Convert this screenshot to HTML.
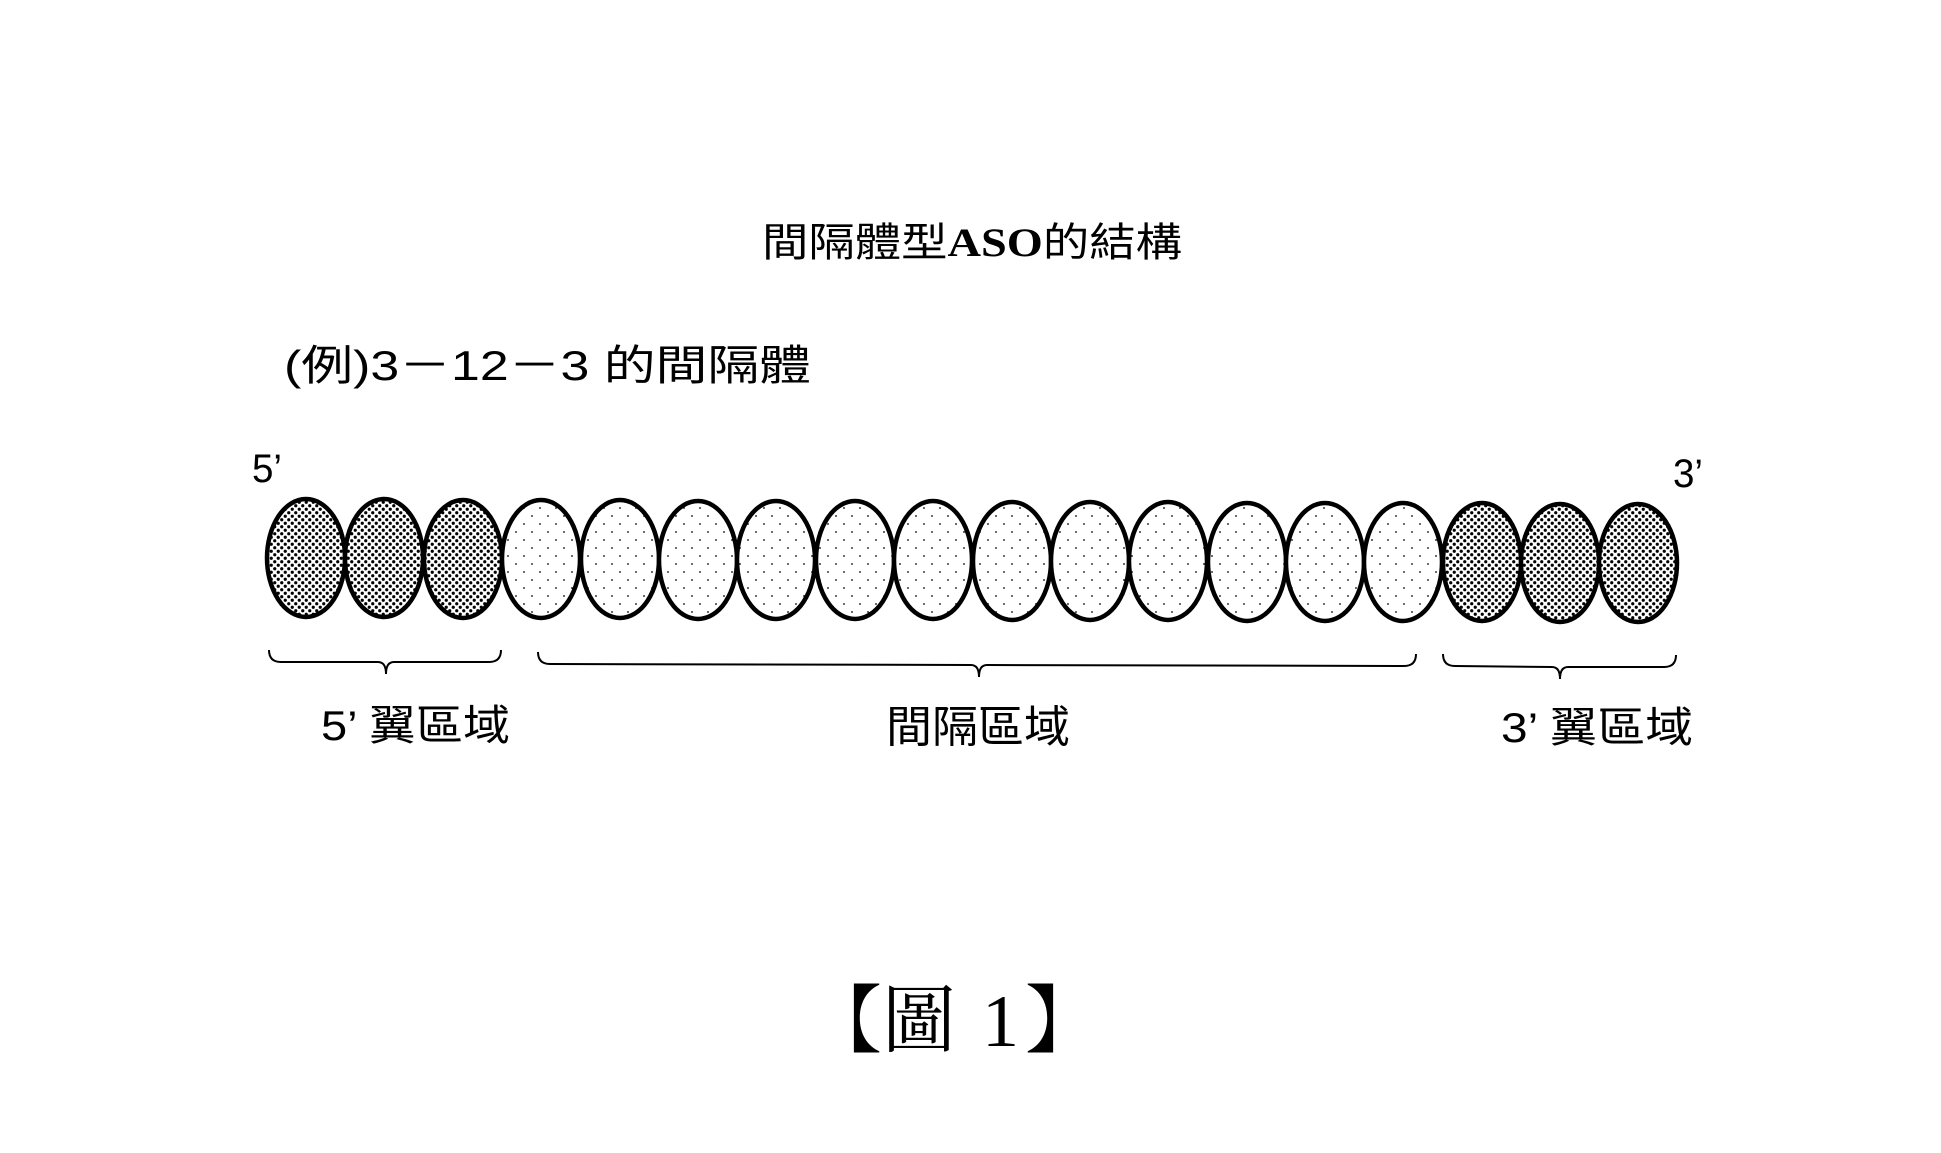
<!DOCTYPE html>
<html><head><meta charset="utf-8"><style>
html,body{margin:0;padding:0;background:#fff;}
svg{display:block;}
text{font-family:"Liberation Sans","Noto Sans CJK TC",sans-serif;fill:#000;}
</style></head><body>
<svg width="1941" height="1153" viewBox="0 0 1941 1153" xmlns="http://www.w3.org/2000/svg">
<defs>
<pattern id="dense" width="7" height="7" patternUnits="userSpaceOnUse">
<rect width="7" height="7" fill="#fff"/>
<circle cx="1.75" cy="1.75" r="1.6" fill="#000"/>
<circle cx="5.25" cy="5.25" r="1.6" fill="#000"/>
</pattern>
<pattern id="sparse" width="16" height="16" patternUnits="userSpaceOnUse">
<rect width="16" height="16" fill="#fff"/>
<circle cx="4" cy="4" r="0.9" fill="#000"/>
<circle cx="12" cy="12" r="0.9" fill="#000"/>
</pattern>
</defs>
<text x="762" y="256" font-size="40" textLength="420" lengthAdjust="spacingAndGlyphs">間隔體型<tspan font-family="Liberation Serif" font-weight="bold">ASO</tspan>的結構</text>
<text x="284" y="380" font-size="42" textLength="527" lengthAdjust="spacingAndGlyphs">(例)3－12－3 的間隔體</text>
<text x="252" y="482" font-size="40" textLength="30" lengthAdjust="spacingAndGlyphs">5’</text>
<text x="1673" y="487" font-size="40" textLength="30" lengthAdjust="spacingAndGlyphs">3’</text>
<g stroke="#000" stroke-width="4.5">
<ellipse cx="306" cy="558" rx="39" ry="59" fill="url(#dense)"/>
<ellipse cx="384" cy="558" rx="39" ry="59" fill="url(#dense)"/>
<ellipse cx="463" cy="559" rx="39" ry="59" fill="url(#dense)"/>
<ellipse cx="541" cy="559" rx="39" ry="59" fill="url(#sparse)"/>
<ellipse cx="620" cy="559" rx="39" ry="59" fill="url(#sparse)"/>
<ellipse cx="698" cy="560" rx="39" ry="59" fill="url(#sparse)"/>
<ellipse cx="776" cy="560" rx="39" ry="59" fill="url(#sparse)"/>
<ellipse cx="855" cy="560" rx="39" ry="59" fill="url(#sparse)"/>
<ellipse cx="933" cy="560" rx="39" ry="59" fill="url(#sparse)"/>
<ellipse cx="1012" cy="561" rx="39" ry="59" fill="url(#sparse)"/>
<ellipse cx="1090" cy="561" rx="39" ry="59" fill="url(#sparse)"/>
<ellipse cx="1168" cy="561" rx="39" ry="59" fill="url(#sparse)"/>
<ellipse cx="1247" cy="562" rx="39" ry="59" fill="url(#sparse)"/>
<ellipse cx="1325" cy="562" rx="39" ry="59" fill="url(#sparse)"/>
<ellipse cx="1403" cy="562" rx="39" ry="59" fill="url(#sparse)"/>
<ellipse cx="1482" cy="562" rx="39" ry="59" fill="url(#dense)"/>
<ellipse cx="1560" cy="563" rx="39" ry="59" fill="url(#dense)"/>
<ellipse cx="1638" cy="563" rx="39" ry="59" fill="url(#dense)"/>
</g>
<g fill="none" stroke="#000" stroke-width="2">
<path d="M269 650 Q269 662 281 662 L378 662 Q386 662 386 674 Q386 662 394 662 L489 662 Q501 662 501 650"/>
<path d="M538 652 Q538 664 550 664 L971 665 Q979 665 979 677 Q979 665 987 665 L1404 666 Q1416 666 1416 654"/>
<path d="M1443 654 Q1443 666 1455 666 L1552 667 Q1560 667 1560 679 Q1560 667 1568 667 L1664 667 Q1676 667 1676 655"/>
</g>
<text x="321" y="740" font-size="42" textLength="189" lengthAdjust="spacingAndGlyphs">5’ 翼區域</text>
<text x="886" y="742" font-size="44" textLength="184" lengthAdjust="spacingAndGlyphs">間隔區域</text>
<text x="1501" y="742" font-size="42" textLength="192" lengthAdjust="spacingAndGlyphs">3’ 翼區域</text>
<text x="808" y="1046" font-size="74" style="font-family:'Liberation Serif','Noto Serif CJK SC',serif">【圖<tspan dx="26">1</tspan><tspan dx="6">】</tspan></text>
</svg>
</body></html>
